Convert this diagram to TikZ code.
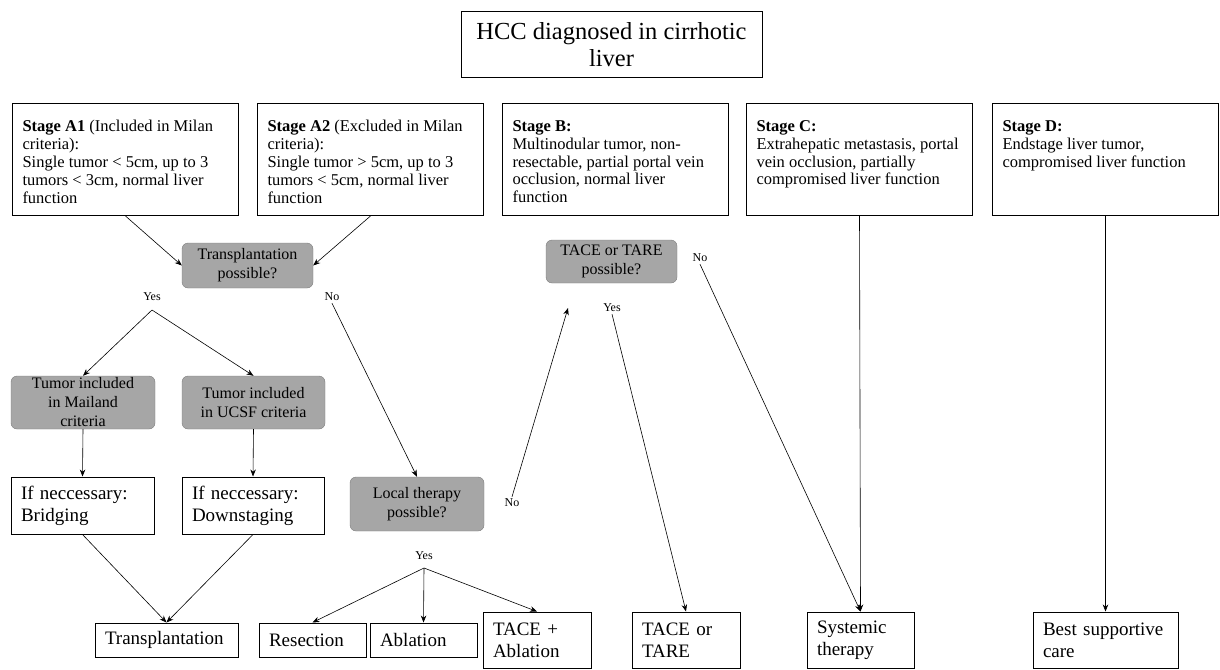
\documentclass[tikz,border=0pt]{standalone}
\usepackage{fontspec}
\setmainfont{Liberation Serif}
\usetikzlibrary{arrows.meta}
\definecolor{boxgray}{RGB}{166,166,166}
\definecolor{edgegray}{RGB}{125,125,125}
\newcommand{\stagetext}[1]{\parbox[t][78pt][t]{206pt}{\raggedright #1}}

\begin{document}
\begin{tikzpicture}[x=1pt, y=-1pt,
    >={Stealth[length=7pt,width=5.5pt]},
    titlebox/.style={draw, line width=1pt, align=center, minimum width=301pt, minimum height=65pt, font=\fontsize{24.5}{27}\selectfont},
    stagebox/.style={draw, line width=1pt, anchor=north west, inner xsep=10pt, inner ysep=17pt, font=\fontsize{16.5}{17.8}\selectfont},
    qbox/.style={draw=edgegray, fill=boxgray, rounded corners=6pt, align=center, inner sep=0pt, font=\fontsize{16}{19}\selectfont},
    abox/.style={draw, line width=1pt, align=left, inner xsep=10pt, inner ysep=0pt, font=\fontsize{19}{22}\selectfont},
    lbl/.style={inner sep=2pt, font=\fontsize{12}{14}\selectfont},
    conn/.style={line width=0.6pt}]
        \useasboundingbox (0,0) rectangle (1220,669);
        % title
        \node[titlebox] (hcc) at (611.5,44.5) {HCC diagnosed in cirrhotic\\liver};
        % stages
        \node[stagebox] (sa1) at (12,103) {\stagetext{\textbf{Stage A1} (Included in Milan\\criteria):\\Single tumor < 5cm, up to 3\\tumors < 3cm, normal liver\\function}};
        \node[stagebox] (sa2) at (257,103) {\stagetext{\textbf{Stage A2} (Excluded in Milan\\criteria):\\Single tumor > 5cm, up to 3\\tumors < 5cm, normal liver\\function}};
        \node[stagebox] (sb) at (502,103) {\stagetext{\textbf{Stage B:}\\Multinodular tumor, non-\\resectable, partial portal vein\\occlusion, normal liver\\function}};
        \node[stagebox] (sc) at (746,103) {\stagetext{\textbf{Stage C:}\\Extrahepatic metastasis, portal\\vein occlusion, partially\\compromised liver function}};
        \node[stagebox] (sd) at (992,103) {\stagetext{\textbf{Stage D:}\\Endstage liver tumor,\\compromised liver function}};
        % questions
        \node[qbox, minimum width=131pt, minimum height=45pt] (tp) at (247.5,265.5) {Transplantation\\possible?};
        \node[qbox, minimum width=131pt, minimum height=43pt] (tt) at (611.5,261.5) {TACE or TARE\\possible?};
        \node[qbox, minimum width=144pt, minimum height=53pt] (mai) at (83,402.5) {Tumor included\\in Mailand\\criteria};
        \node[qbox, minimum width=143pt, minimum height=53pt] (ucsf) at (253.5,402.5) {Tumor included\\in UCSF criteria};
        \node[qbox, minimum width=134pt, minimum height=54pt] (lt) at (417,504) {Local therapy\\possible?};
        % answers
        \node[abox, text width=123pt, minimum height=57pt] (bridg) at (82.5,505.5) {If neccessary:\\Bridging};
        \node[abox, text width=122pt, minimum height=57pt] (downst) at (253,505.5) {If neccessary:\\Downstaging};
        \node[abox, text width=123pt, minimum height=34pt] (transp) at (166.5,640) {Transplantation};
        \node[abox, text width=87pt, minimum height=34pt] (resec) at (312.5,640) {Resection};
        \node[abox, text width=87pt, minimum height=34pt] (abl) at (423.5,640) {Ablation};
        \node[abox, text width=88pt, minimum height=56pt] (tacea) at (537,640) {TACE +\\Ablation};
        \node[abox, text width=88pt, minimum height=56pt] (tacet) at (686,640) {TACE or\\TARE};
        \node[abox, text width=87pt, minimum height=56pt] (syst) at (860.5,640) {Systemic\\therapy};
        \node[abox, text width=125pt, minimum height=56pt] (bsc) at (1105.5,640) {Best supportive\\care};
        % yes / no
        \node[lbl] (yes1) at (152,297) {Yes};
        \node[lbl] (no1) at (332,297) {No};
        \node[lbl] (yes2) at (424,556) {Yes};
        \node[lbl] (no2) at (512,503) {No};
        \node[lbl] (yes3) at (612,308) {Yes};
        \node[lbl] (no3) at (700,258) {No};
        \coordinate (split1) at (152,310);
        \coordinate (split2) at (424,568);
        \coordinate (ttip) at (568,308);
        % connectors
        \draw[conn,->] (sa1.south) -- (tp.west);
        \draw[conn,->] (sa2.south) -- (tp.east);
        \draw[conn,->] (split1) -- (mai.north);
        \draw[conn,->] (split1) -- (ucsf.north);
        \draw[conn,->] (mai.south) -- (bridg.north);
        \draw[conn,->] (ucsf.south) -- (downst.north);
        \draw[conn,->] (bridg.south) -- (transp.north);
        \draw[conn,->] (downst.south) -- (transp.north);
        \draw[conn,->] (no1.south) -- (lt.north);
        \draw[conn,->] (split2) -- (resec.north);
        \draw[conn,->] (split2) -- (abl.north);
        \draw[conn,->] (split2) -- (tacea.north);
        \draw[conn,->] (no2.north) -- (ttip);
        \draw[conn,->] (yes3.south) -- (tacet.north);
        \draw[conn,->] (no3.south) -- (syst.north);
        \draw[conn,->] (sc.south) -- (syst.north);
        \draw[conn,->] (sd.south) -- (bsc.north);
\end{tikzpicture}
\end{document}
